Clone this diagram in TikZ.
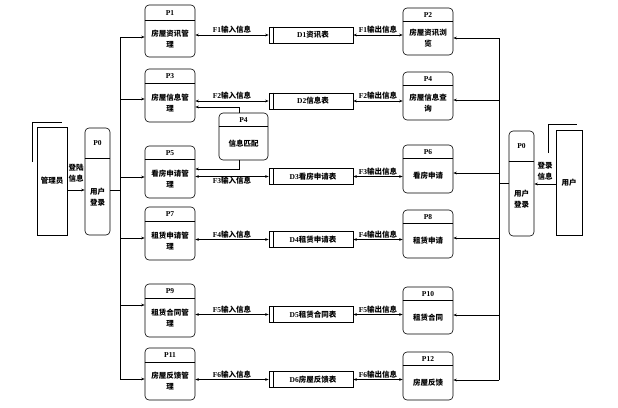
\documentclass[tikz,border=0pt]{standalone}
\usepackage{fontspec}
\setmainfont{Liberation Serif}
\newfontfamily\cjk{Noto Sans CJK SC}
\usetikzlibrary{arrows.meta,calc}
\newcommand\procnode[8]{%
  \node[procbox, minimum width=#4pt, minimum height=#5pt] (#1) at (#2,#3) {};
  \draw[divline] ([yshift=-#6pt]#1.north west) -- ([yshift=-#6pt]#1.north east);
  \node[ttl] (#1-t) at ([yshift={-0.5*#6*1pt}]#1.north) {#7};
  \node[txt] (#1-x) at ([yshift={-0.5*(#5+#6)*1pt}]#1.north) {#8};
}
\newcommand\storenode[4]{%
  \node[storebox] (#1) at (#2,#3) {};
  \draw[thinline] ([xshift=5pt]#1.north west) -- ([xshift=5pt]#1.south west);
  \node[stxt] (#1-x) at ([xshift=2pt]#1.center) {#4};
}
\begin{document}
\begin{tikzpicture}[x=1pt,y=-1pt,
  line width=0.6pt,
  procbox/.style={draw, rounded corners=4pt, inner sep=0},
  divline/.style={line width=0.8pt},
  thinline/.style={line width=0.6pt},
  storebox/.style={draw, minimum width=84pt, minimum height=16pt, inner sep=0},
  entbox/.style={draw, inner sep=0},
  ttl/.style={font=\bfseries\fontsize{7.5}{9}\selectfont, inner sep=0},
  txt/.style={font=\cjk\bfseries\fontsize{7.5}{11}\selectfont, align=center, inner sep=0},
  stxt/.style={font=\bfseries\fontsize{7.5}{9}\selectfont, inner sep=0},
  flab/.style={font=\bfseries\fontsize{7.5}{9}\selectfont, inner sep=1pt},
  arr/.style={-{Stealth[length=3.5pt,width=2.6pt]}},
  dbl/.style={{Stealth[length=3.5pt,width=2.6pt]}-{Stealth[length=3.5pt,width=2.6pt]}}
]
\useasboundingbox (0,0) rectangle (618,407);

% external entities
\node[entbox, minimum width=30pt, minimum height=108pt] (adm) at (52,181) {};
\node[txt] (adm-x) at (adm.center) {管理员};
\draw (32,162) -- (32,122) -- (62,122);
\node[entbox, minimum width=26pt, minimum height=105pt] (usr) at (569,182.5) {};
\node[txt] (usr-x) at (usr.center) {用户};
\draw (548,153) -- (548,124) -- (577,124);

% login processes
\procnode{p0l}{97.5}{181.5}{25}{107}{31}{P0}{用户\\登录}
\procnode{p0r}{521.5}{183.5}{25}{105}{31}{P0}{用户\\登录}

% left processes
\procnode{p1}{170}{31}{50}{52}{16}{P1}{房屋资讯管\\理}
\procnode{p3}{170}{95.5}{50}{53}{15}{P3}{房屋信息管\\理}
\procnode{p5}{170}{172}{50}{52}{14}{P5}{看房申请管\\理}
\procnode{p7}{170}{233.5}{50}{53}{15}{P7}{租赁申请管\\理}
\procnode{p9}{170}{310.5}{50}{53}{15}{P9}{租赁合同管\\理}
\procnode{p11}{170}{374}{50}{52}{15}{P11}{房屋反馈管\\理}

% right processes
\procnode{p2}{428}{31.5}{50}{47}{14}{P2}{房屋资讯浏\\览}
\procnode{p4}{428}{96}{50}{48}{14}{P4}{房屋信息查\\询}
\procnode{p6}{428}{169}{50}{48}{14}{P6}{看房申请}
\procnode{p8}{428}{234}{50}{48}{14}{P8}{租赁申请}
\procnode{p10}{428}{310.5}{50}{47}{14}{P10}{租赁合同}
\procnode{p12}{428}{376}{50}{48}{14}{P12}{房屋反馈}

% matching process
\procnode{pm}{243.5}{136.5}{49}{47}{14}{P4}{信息匹配}

% data stores
\storenode{d1}{311}{35}{D1{\cjk 资讯表}}
\storenode{d2}{311}{101}{D2{\cjk 信息表}}
\storenode{d3}{311}{176.5}{D3{\cjk 看房申请表}}
\storenode{d4}{311}{239.5}{D4{\cjk 租赁申请表}}
\storenode{d5}{311}{314.5}{D5{\cjk 租赁合同表}}
\storenode{d6}{311}{379.5}{D6{\cjk 房屋反馈表}}

% flows process <-> store <-> process
\draw[dbl] (d1.west -| p1.east) -- node[flab, above] {F1{\cjk 输入信息}} (d1.west);
\draw[dbl] (d1.east) -- node[flab, above] {F1{\cjk 输出信息}} (d1.east -| p2.west);
\draw[dbl] (d2.west -| p3.east) -- node[flab, above] {F2{\cjk 输入信息}} (d2.west);
\draw[dbl] (d2.east) -- node[flab, above] {F2{\cjk 输出信息}} (d2.east -| p4.west);
\draw[dbl] (d3.west -| p5.east) -- node[flab, below, yshift=1pt] {F3{\cjk 输入信息}} (d3.west);
\draw[dbl] (d3.east) -- node[flab, above] {F3{\cjk 输出信息}} (d3.east -| p6.west);
\draw[dbl] (d4.west -| p7.east) -- node[flab, above] {F4{\cjk 输入信息}} (d4.west);
\draw[dbl] (d4.east) -- node[flab, above] {F4{\cjk 输出信息}} (d4.east -| p8.west);
\draw[dbl] (d5.west -| p9.east) -- node[flab, above] {F5{\cjk 输入信息}} (d5.west);
\draw[dbl] (d5.east) -- node[flab, above] {F5{\cjk 输出信息}} (d5.east -| p10.west);
\draw[dbl] (d6.west -| p11.east) -- node[flab, above] {F6{\cjk 输入信息}} (d6.west);
\draw[dbl] (d6.east) -- node[flab, above] {F6{\cjk 输出信息}} (d6.east -| p12.west);

% matching connectors
\coordinate (k1) at (239,107);
\coordinate (k2) at (239,169);
\draw[arr] (k1 |- pm.north) -- (k1) -- (k1 -| p3.east);
\draw[arr] (k2 |- pm.south) -- (k2) -- (k2 -| p5.east);

% left bus
\coordinate (lb1) at (120,37);
\coordinate (lb3) at (120,99);
\coordinate (lb5) at (120,177);
\coordinate (lb7) at (120,238);
\coordinate (lb9) at (120,305);
\coordinate (lb11) at (120,379);
\coordinate (lbp) at (120,190);
\draw (lb1) -- (lb11);
\draw[arr] (lb1) -- (lb1 -| p1.west);
\draw[arr] (lb3) -- (lb3 -| p3.west);
\draw[arr] (lb5) -- (lb5 -| p5.west);
\draw[arr] (lb7) -- (lb7 -| p7.west);
\draw[arr] (lb9) -- (lb9 -| p9.west);
\draw[arr] (lb11) -- (lb11 -| p11.west);
\draw (lbp -| p0l.east) -- (lbp);

% right bus
\coordinate (rb2) at (499,38);
\coordinate (rb4) at (499,100);
\coordinate (rb6) at (499,173);
\coordinate (rb8) at (499,238);
\coordinate (rb10) at (499,315);
\coordinate (rb12) at (499,380);
\coordinate (rbp) at (499,183);
\draw (rb2) -- (rb12);
\draw[arr] (rb2) -- (rb2 -| p2.east);
\draw[arr] (rb4) -- (rb4 -| p4.east);
\draw[arr] (rb6) -- (rb6 -| p6.east);
\draw[arr] (rb8) -- (rb8 -| p8.east);
\draw[arr] (rb10) -- (rb10 -| p10.east);
\draw[arr] (rb12) -- (rb12 -| p12.east);
\draw (rbp) -- (rbp -| p0r.west);

% login flows
\coordinate (la) at (0,190);
\draw[arr] (la -| adm.east) -- (la -| p0l.west);
\node[txt] (la-l) at (76,173) {登陆\\信息};
\coordinate (ra) at (0,184);
\draw[arr] (ra -| usr.west) -- (ra -| p0r.east);
\node[txt] (ra-l) at (545,171) {登录\\信息};
\end{tikzpicture}
\end{document}
